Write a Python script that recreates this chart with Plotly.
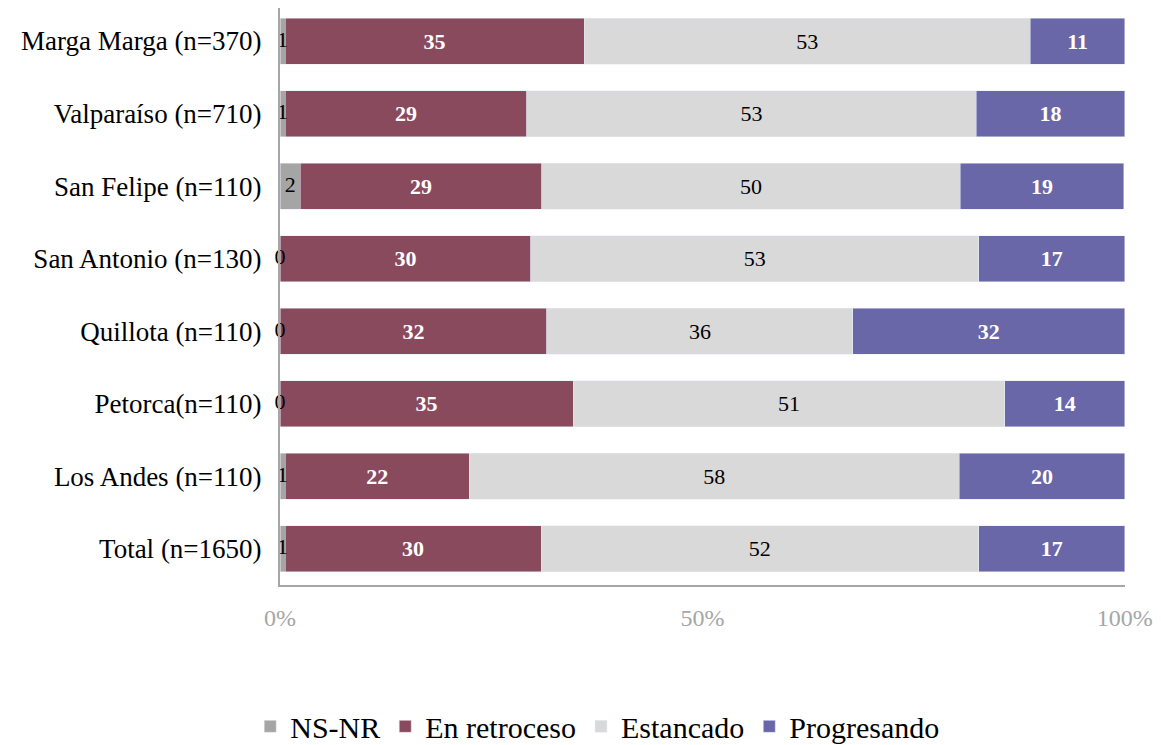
import plotly.graph_objects as go

provincias = ["Marga Marga (n=370)", "Valparaíso (n=710)", "San Felipe (n=110)",
              "San Antonio (n=130)", "Quillota (n=110)", "Petorca(n=110)",
              "Los Andes (n=110)", "Total (n=1650)"]
ns_nr = [0.6, 0.6, 2.4, 0.0, 0.0, 0.0, 0.6, 0.6]
retroceso = [35.4, 28.6, 28.6, 29.7, 31.6, 34.7, 21.8, 30.3]
estancado = [52.8, 53.2, 49.5, 53.0, 36.2, 51.1, 58.0, 51.8]
progresando = [11.2, 17.6, 19.4, 17.3, 32.2, 14.2, 19.6, 17.3]

serif = "Liberation Serif"

fig = go.Figure()
fig.add_bar(y=provincias, x=ns_nr, orientation="h", name="NS-NR",
            marker_color="#A5A5A5", hoverinfo="x+y")
fig.add_bar(y=provincias, x=retroceso, orientation="h", name="En retroceso",
            marker_color="#8A4A5E", texttemplate="<b>%{x:.0f}</b>",
            textposition="inside", insidetextanchor="middle",
            textfont=dict(color="white", size=22, family=serif))
fig.add_bar(y=provincias, x=estancado, orientation="h", name="Estancado",
            marker_color="#D9D9D9", texttemplate="%{x:.0f}",
            textposition="inside", insidetextanchor="middle",
            textfont=dict(color="black", size=22, family=serif))
fig.add_bar(y=provincias, x=progresando, orientation="h", name="Progresando",
            marker_color="#6A67A8", texttemplate="<b>%{x:.0f}</b>",
            textposition="inside", insidetextanchor="middle",
            textfont=dict(color="white", size=22, family=serif))
fig.update_traces(cliponaxis=False, selector=dict(type="bar"))

# NS-NR labels sit over the thin bars, so draw them as text marks
fig.add_scatter(y=provincias, x=[v / 2 for v in ns_nr], mode="text",
                text=[f"{v:.0f}" for v in ns_nr], showlegend=False,
                textfont=dict(color="black", size=22, family=serif),
                cliponaxis=False, hoverinfo="skip")

# page body adds 8px, so the figure is 8px smaller than the window
fig.update_layout(
    barmode="stack", bargap=0.366,
    width=1153, height=737,
    margin=dict(l=272, r=36, t=0, b=160, autoexpand=False),
    plot_bgcolor="white", paper_bgcolor="white",
    font=dict(family=serif, color="black", size=22),
    legend=dict(orientation="h", x=0.376, xanchor="center", y=-0.245,
                yanchor="middle", font=dict(size=30), traceorder="normal",
                itemwidth=30),
)
fig.update_xaxes(range=[0, 100.02], tickvals=[0, 50, 100],
                 ticktext=["0%", "50%", "100%"], showgrid=False,
                 showline=True, linecolor="#A6A6A6", linewidth=2,
                 tickfont=dict(color="#A6A6A6", size=24), ticklabelstandoff=10,
                 zeroline=False, fixedrange=True)
fig.update_yaxes(range=[7.5, -0.455], showgrid=False, showline=True,
                 linecolor="#A6A6A6", linewidth=2, ticklabelstandoff=11,
                 tickfont=dict(size=27), fixedrange=True)

fig.write_html("out.html")
